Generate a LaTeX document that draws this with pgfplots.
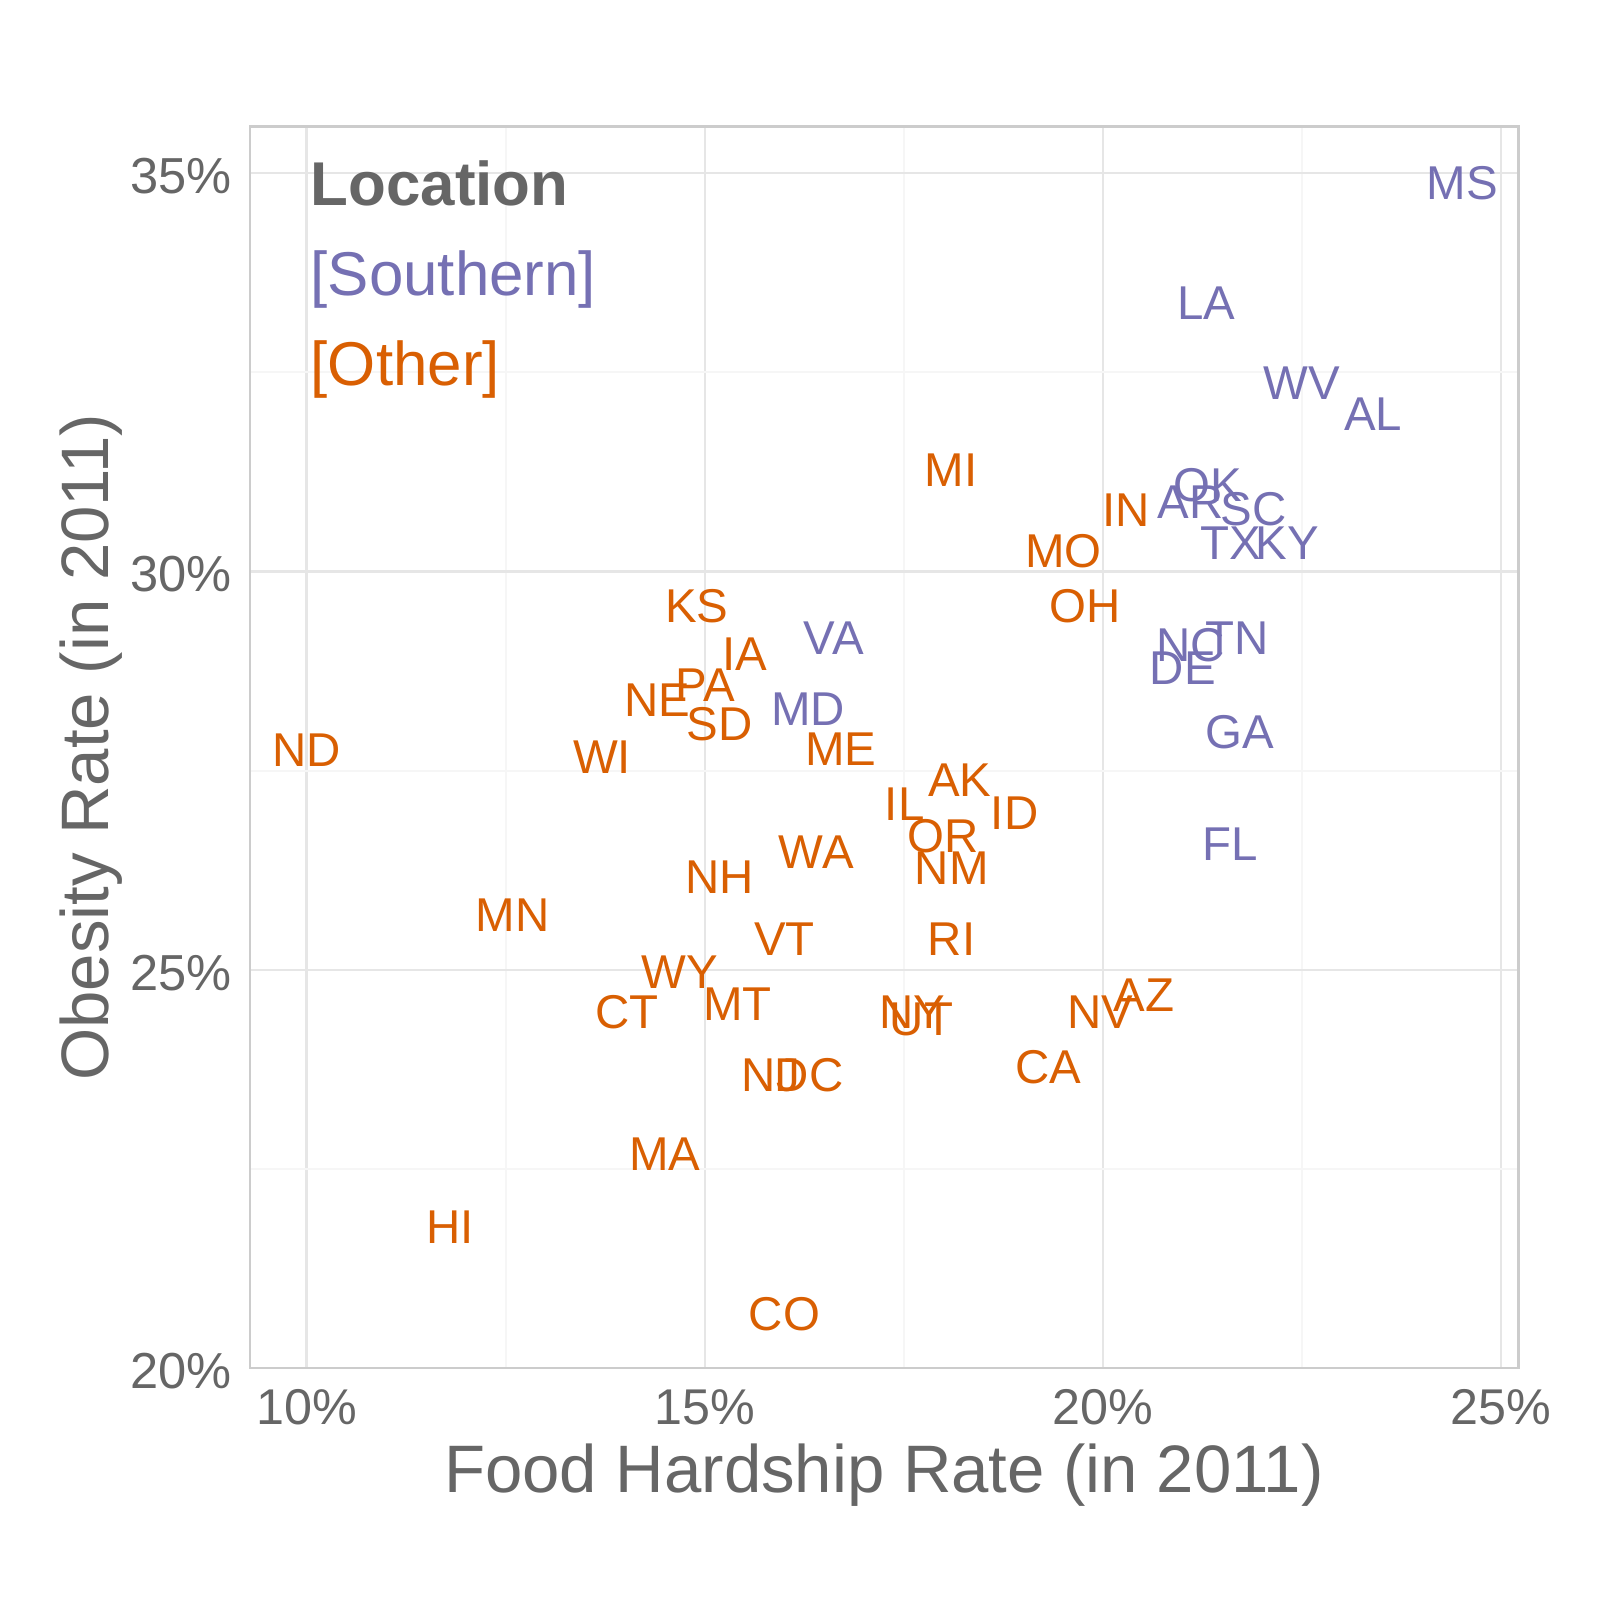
\documentclass[border=0pt]{standalone}
\usepackage{fontspec}
\setmainfont{Liberation Sans}
\usepackage{pgfplots}
\usepackage{pgfplotstable}
\pgfplotsset{compat=1.18}

\definecolor{south}{HTML}{7570B3}
\definecolor{other}{HTML}{D95F02}
\definecolor{txtgray}{HTML}{666666}
\definecolor{bordergray}{HTML}{CCCCCC}
\definecolor{majgrid}{HTML}{E6E6E6}
\definecolor{mingrid}{HTML}{F6F6F6}

% food hardship (x), obesity (y), state
\pgfplotstableread{
x y lab
24.51 34.87 MS
21.30 33.37 LA
22.50 32.36 WV
23.39 31.97 AL
21.31 31.08 OK
21.10 30.87 AR
21.89 30.78 SC
21.60 30.36 TX
22.31 30.36 KY
21.10 29.08 NC
21.68 29.16 TN
21.00 28.78 DE
21.72 27.98 GA
16.62 29.16 VA
16.30 28.27 MD
21.60 26.57 FL
}\southern

\pgfplotstableread{
x y lab
20.29 30.77 IN
19.50 30.26 MO
18.09 31.27 MI
19.78 29.57 OH
14.90 29.57 KS
15.50 28.96 IA
15.01 28.57 PA
14.40 28.38 NE
15.19 28.08 SD
16.71 27.77 ME
13.71 27.67 WI
10.00 27.76 ND
18.20 27.38 AK
17.51 27.08 IL
18.89 26.97 ID
17.99 26.68 OR
18.10 26.27 NM
16.40 26.47 WA
15.19 26.16 NH
12.59 25.68 MN
16.00 25.38 VT
18.10 25.38 RI
14.69 24.97 WY
14.02 24.47 CT
15.41 24.57 MT
17.61 24.47 NY
17.72 24.37 UT
19.97 24.47 NV
20.51 24.68 AZ
15.83 23.67 NJ
16.31 23.67 DC
19.31 23.78 CA
14.50 22.68 MA
11.80 21.77 HI
16.00 20.67 CO
}\other

\begin{document}
\begin{tikzpicture}
\path[use as bounding box] (-2.50,-2.32) rectangle (13.50,13.68);
\begin{axis}[
  at={(0,0)}, anchor=south west,
  width=12.68cm, height=12.41cm, scale only axis,
  xmin=9.29, xmax=25.21, ymin=20, ymax=35.58,
  xtick={10,15,20,25}, xticklabels={10\%,15\%,20\%,25\%},
  ytick={20,25,30,35}, yticklabels={20\%,25\%,30\%,35\%},
  minor xtick={12.5,17.5,22.5}, minor ytick={22.5,27.5,32.5},
  grid=both,
  major grid style={draw=majgrid, line width=0.6pt},
  minor grid style={draw=mingrid, line width=0.6pt},
  major tick length=0pt, minor tick length=0pt,
  axis line style={draw=bordergray, line width=0.85pt},
  xticklabel style={font=\fontsize{14.3}{14.3}\selectfont, text=txtgray, anchor=base, inner sep=0pt, yshift=-0.57cm},
  yticklabel style={font=\fontsize{14.4}{14.4}\selectfont, text=txtgray, anchor=east, inner sep=0pt, xshift=-0.18cm, yshift=-0.03cm},
]
\addplot[draw=none, mark=none, nodes near coords, point meta=explicit symbolic,
  nodes near coords align=center,
  every node near coord/.append style={text=south, font=\fontsize{13.5}{13.5}\selectfont, inner sep=0pt, anchor=center}]
  table[x=x, y=y, meta=lab] {\southern};
\addplot[draw=none, mark=none, nodes near coords, point meta=explicit symbolic,
  nodes near coords align=center,
  every node near coord/.append style={text=other, font=\fontsize{13.5}{13.5}\selectfont, inner sep=0pt, anchor=center}]
  table[x=x, y=y, meta=lab] {\other};
\end{axis}

\node[font=\fontsize{19.1}{19.1}\selectfont, text=txtgray, anchor=base, inner sep=0pt] at (6.34,-1.25) {Food Hardship Rate (in 2011)};
\node[font=\fontsize{19.1}{19.1}\selectfont, text=txtgray, anchor=base, rotate=90, inner sep=0pt] at (-1.41,6.205) {Obesity Rate (in 2011)};

\node[anchor=base west, inner sep=0pt, font=\bfseries\fontsize{17.6}{17.6}\selectfont, text=txtgray] at (0.60,11.62) {Location};
\node[anchor=base west, inner sep=0pt, font=\fontsize{17.6}{17.6}\selectfont, text=south] at (0.60,10.72) {[Southern]};
\node[anchor=base west, inner sep=0pt, font=\fontsize{17.6}{17.6}\selectfont, text=other] at (0.60,9.82) {[Other]};
\end{tikzpicture}
\end{document}
